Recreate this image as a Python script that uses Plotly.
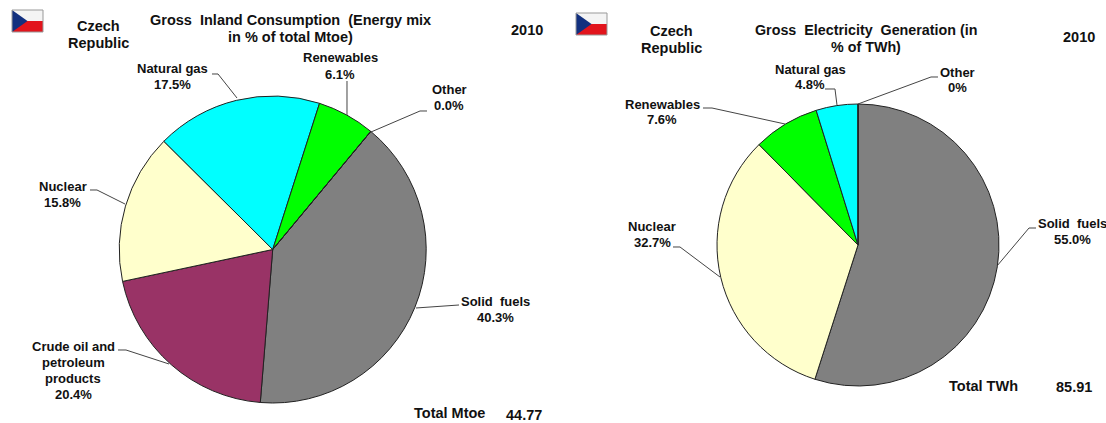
import plotly.graph_objects as go

W, H = 1106, 423

mix_order = ["Solid fuels", "Crude oil and petroleum products", "Nuclear", "Natural gas", "Renewables", "Other"]
mix_values = [40.3, 20.4, 15.8, 17.5, 6.1, 0.0]
mix_colors = ["#808080", "#993366", "#FFFFCC", "#00FFFF", "#00FF00", "#FF0000"]

gen_labels = ["Solid fuels", "Nuclear", "Renewables", "Natural gas", "Other"]
gen_values = [55.0, 32.7, 7.6, 4.8, 0.0]
gen_colors = ["#808080", "#FFFFCC", "#00FF00", "#00FFFF", "#FF0000"]


def px(x):
    return x / W


def py(y):
    return 1 - y / H


def domain(cx, cy, r):
    return dict(x=[px(cx - r), px(cx + r)], y=[py(cy + r), py(cy - r)])


fig = go.Figure()
fig.add_trace(go.Pie(labels=mix_order, values=mix_values, sort=False, direction="clockwise",
                     rotation=39.7, domain=domain(272.7, 249.5, 153.5), textinfo="none", showlegend=False,
                     hoverinfo="label+percent", marker=dict(colors=mix_colors, line=dict(color="#222222", width=1))))
fig.add_trace(go.Pie(labels=gen_labels, values=gen_values, sort=False, direction="clockwise",
                     rotation=0, domain=domain(858, 245, 141), textinfo="none", showlegend=False,
                     hoverinfo="label+percent", marker=dict(colors=gen_colors, line=dict(color="#222222", width=1))))

# text: (centre x, centre y of first line, lines, size)
texts = [
    (98, 26, ["Czech", "Republic"], 14.5),
    (290, 20, ["Gross  Inland Consumption  (Energy mix", "in % of total Mtoe)"], 14.5),
    (527, 30, ["2010"], 14.5),
    (172, 68, ["Natural gas", "17.5%"], 13),
    (340, 58, ["Renewables", "6.1%"], 13),
    (449, 90, ["Other", "0.0%"], 13),
    (495, 301, ["Solid  fuels", "40.3%"], 13),
    (62.5, 186.5, ["Nuclear", "15.8%"], 13),
    (73, 346, ["Crude oil and", "petroleum", "products", "20.4%"], 13),
    (449, 413, ["Total Mtoe"], 14.5),
    (524, 415, ["44.77"], 14.5),
    (671, 31, ["Czech", "Republic"], 14.5),
    (866, 30, ["Gross  Electricity  Generation (in", "% of TWh)"], 14.3),
    (1079, 37, ["2010"], 14.5),
    (810, 69, ["Natural gas", "4.8%"], 13),
    (957, 72, ["Other", "0%"], 13),
    (662, 104, ["Renewables", "7.6%"], 13),
    (652, 226.5, ["Nuclear", "32.7%"], 13),
    (1072, 223, ["Solid  fuels", "55.0%"], 13),
    (983, 386, ["Total TWh"], 14.5),
    (1074, 387, ["85.91"], 14.5),
]
for cx, cy, lines, size in texts:
    step = 17 if size > 13 else 16
    for i, line in enumerate(lines):
        fig.add_annotation(x=px(cx), y=py(cy + i * step), xref="paper", yref="paper", text=f"<b>{line}</b>",
                           showarrow=False, xanchor="center", yanchor="middle",
                           font=dict(family="Liberation Sans", size=size, color="#111111"))

leaders = [
    [(212, 74), (218, 74), (237, 98)],
    [(347, 81), (347, 115)],
    [(427, 111), (420, 111), (371, 132)],
    [(459, 305), (416, 308)],
    [(118, 350), (126, 350), (169, 364)],
    [(90, 190), (97, 190), (125, 204)],
    [(825, 89), (835, 89), (837, 105)],
    [(938, 77), (931, 77), (858, 104)],
    [(703, 108), (712, 108), (785, 124)],
    [(673, 247), (680, 247), (720, 277)],
    [(1036, 228), (1029, 228), (997, 266)],
]
shapes = []
for pts in leaders:
    path = "M " + " L ".join(f"{px(x):.5f} {py(y):.5f}" for x, y in pts)
    shapes.append(dict(type="path", xref="paper", yref="paper", path=path, line=dict(color="#444444", width=1)))

for x0, y0 in [(12, 10), (576, 13)]:
    w, h = 31, 22
    shapes += [
        dict(type="rect", xref="paper", yref="paper", x0=px(x0), x1=px(x0 + w), y0=py(y0 + h / 2), y1=py(y0),
             fillcolor="#F4F4F4", line=dict(width=0)),
        dict(type="rect", xref="paper", yref="paper", x0=px(x0), x1=px(x0 + w), y0=py(y0 + h), y1=py(y0 + h / 2),
             fillcolor="#E2141C", line=dict(width=0)),
        dict(type="path", xref="paper", yref="paper",
             path=f"M {px(x0)} {py(y0)} L {px(x0 + w / 2)} {py(y0 + h / 2)} L {px(x0)} {py(y0 + h)} Z",
             fillcolor="#12307F", line=dict(width=0)),
        dict(type="rect", xref="paper", yref="paper", x0=px(x0), x1=px(x0 + w), y0=py(y0 + h), y1=py(y0),
             line=dict(color="#999999", width=1)),
    ]

fig.update_layout(width=W, height=H, margin=dict(l=0, r=0, t=0, b=0), paper_bgcolor="white",
                  plot_bgcolor="white", shapes=shapes, showlegend=False)
fig.write_html("out.html", config=dict(displayModeBar=False),
               post_script="document.body.style.margin='0';document.body.style.overflow='hidden';")
